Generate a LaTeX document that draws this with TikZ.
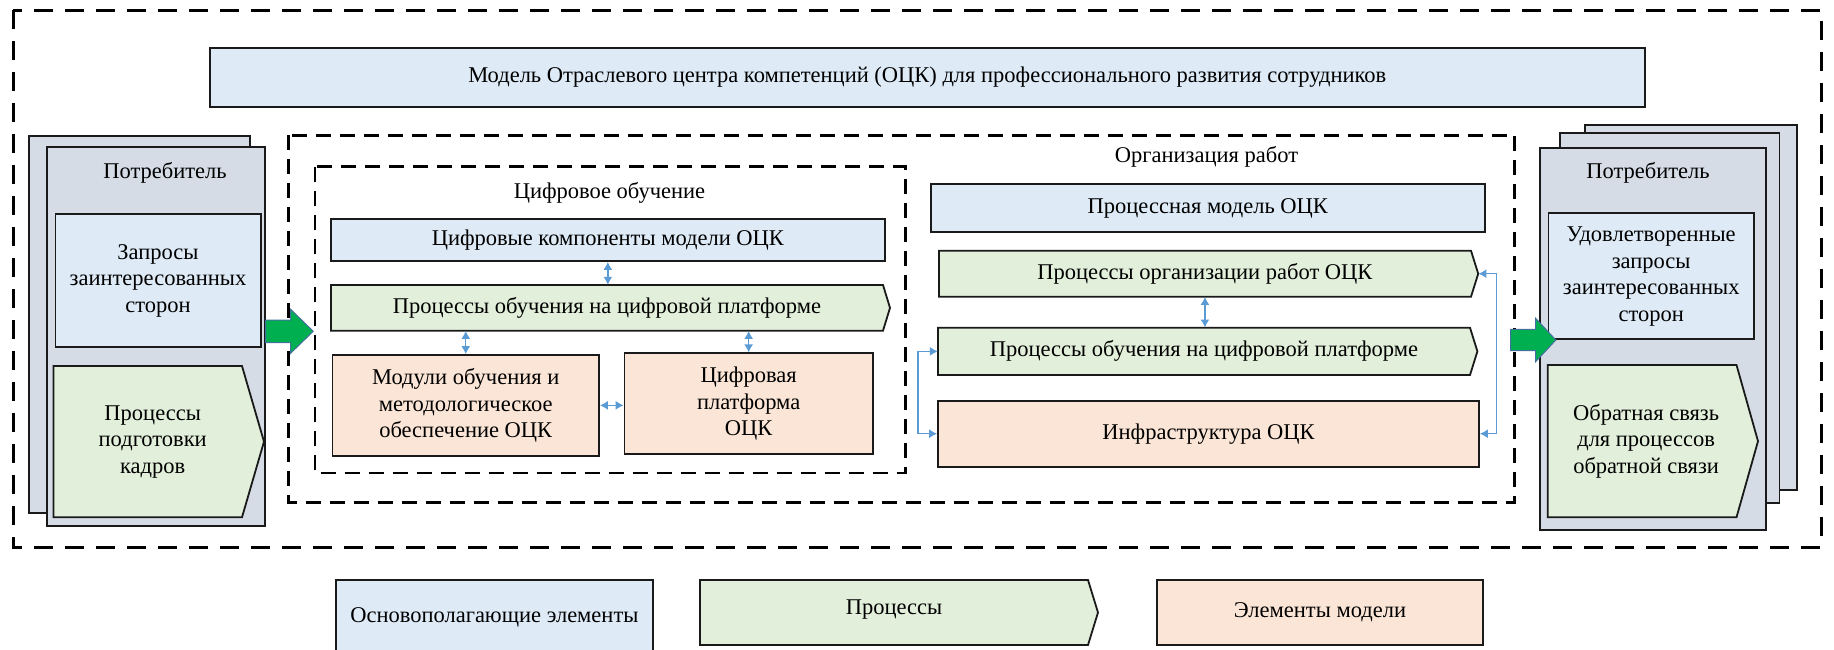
\documentclass[tikz,border=0pt]{standalone}
\usepackage{fontspec}
\setmainfont{Liberation Serif}
\usetikzlibrary{arrows.meta,calc}

\definecolor{fillblue}{HTML}{DEEBF7}
\definecolor{fillgreen}{HTML}{E2EFDA}
\definecolor{fillorange}{HTML}{FBE5D6}
\definecolor{fillstack}{HTML}{D6DCE5}
\definecolor{linkblue}{HTML}{5B9BD5}
\definecolor{arrowgreen}{HTML}{00B050}
\definecolor{arrowedge}{HTML}{41719C}
\definecolor{edge}{HTML}{1A1A1A}

\tikzset{
  txt/.style={font=\fontsize{22.5}{26.5}\selectfont, text=black, inner sep=0pt, align=center},
  box/.style={txt, draw=edge, line width=1.8pt},
  basebox/.style={box, fill=fillblue},
  modelbox/.style={box, fill=fillorange},
  stackbox/.style={box, fill=fillstack},
  procshape/.style={fill=fillgreen, draw=edge, line width=1.8pt, line join=miter},
  area/.style={draw=black, line width=3pt, dash pattern=on 19pt off 12pt},
  subarea/.style={draw=black, line width=2.6pt, dash pattern=on 15pt off 9pt},
  link/.style={draw=linkblue, line width=1.3pt,
    {Latex[length=8pt,width=9pt]}-{Latex[length=8pt,width=9pt]}},
  flow/.style={fill=arrowgreen, draw=arrowedge, line width=1pt, line join=miter},
}

% rectangular box: style, name, x1, y1, x2, y2, text
\newcommand\boxat[7]{%
  \node[#1, minimum width={#5-#3}, minimum height={#6-#4}] (#2)
    at ({(#3+#5)/2},{(#4+#6)/2}) {#7};}

% process (pentagon) box: [text shift], name, x1, y1, x2 (flat end), y2, tip length, text
\newcommand\procat[8][]{%
  \path[procshape] (#3,#4) -- (#5,#4) -- ({#5+#7},{(#4+#6)/2}) -- (#5,#6) -- (#3,#6) -- cycle;
  \node[txt, minimum width={#5-#3}, minimum height={#6-#4}, #1] (#2)
    at ({(#3+#5)/2},{(#4+#6)/2}) {#8};}

\begin{document}
\begin{tikzpicture}[x=1pt,y=-1pt]
\useasboundingbox (0,0) rectangle (1834,649);

% outer frame and title
\draw[area] (13,10) rectangle (1821,547);
\boxat{basebox}{title}{209.6}{47.7}{1645}{106.7}{Модель Отраслевого центра компетенций (ОЦК) для профессионального развития сотрудников}

% consumer stack on the left
\boxat{stackbox}{lback}{28.9}{136}{250.3}{513.3}{}
\boxat{stackbox}{lfront}{46.7}{146.7}{265.3}{525.7}{}
\node[txt] (lcons) at (165,173) {Потребитель};
\boxat{basebox}{req}{55.4}{214.3}{260.6}{346.7}{Запросы\\заинтересованных\\сторон}
\procat[xshift=5pt]{prep}{53.4}{366}{242}{517.3}{22}{Процессы\\подготовки\\кадров}

% organisation of work area
\draw[subarea] (288.6,135.3) rectangle (1514.6,502.3);
\node[txt] (orglbl) at (1206.5,157.3) {Организация работ};

% digital learning area
\draw[subarea] (315,166.7) rectangle (905.2,473);
\node[txt] (diglbl) at (609.5,193.3) {Цифровое обучение};
\boxat{basebox}{dcomp}{331}{218.7}{884.7}{261}{Цифровые компоненты модели ОЦК}
\procat{plearnA}{331}{285}{883}{330.7}{7}{Процессы обучения на цифровой платформе}
\boxat{modelbox}{modules}{332.5}{355}{599}{455.7}{Модули обучения и\\методологическое\\обеспечение ОЦК}
\boxat{modelbox}{platform}{624.5}{353.3}{872.8}{454}{Цифровая\\платформа\\ОЦК}

\draw[link] (dcomp.south) -- (dcomp.south |- plearnA.north);
\draw[link] (modules.north) -- (modules.north |- plearnA.south);
\draw[link] (platform.north) -- (platform.north |- plearnA.south);
\draw[link] (modules.east) -- (modules.east -| platform.west);

% process model column
\boxat{basebox}{pmodel}{931}{184.3}{1484.6}{232}{Процессная модель ОЦК}
\procat{porg}{938.9}{250.7}{1471}{296.7}{7.2}{Процессы организации работ ОЦК}
\procat{plearnB}{938}{327.7}{1470}{375}{7.4}{Процессы обучения на цифровой платформе}
\boxat{modelbox}{infra}{938}{400.7}{1479}{466.7}{Инфраструктура ОЦК}

\coordinate (porgtip) at ($(porg.east)+(7.2,0)$);
\draw[link] (porg.south) -- (porg.south |- plearnB.north);
\draw[link] (plearnB.west) -- ++(-19.7,0) |- (infra.west);
\draw[link] (porgtip) -- ++(18.2,0) |- (infra.east);

% consumer stack on the right
\boxat{stackbox}{rback}{1585.3}{125}{1797.2}{490}{}
\boxat{stackbox}{rmid}{1559.8}{133.3}{1779.4}{503.3}{}
\boxat{stackbox}{rfront}{1539.6}{148.3}{1766}{530}{}
\node[txt] (rcons) at (1648,172.7) {Потребитель};
\boxat{basebox}{sreq}{1548.5}{213.3}{1753.9}{339.3}{Удовлетворенные\\запросы\\заинтересованных\\сторон}
\procat[xshift=4pt]{feedback}{1547.7}{365}{1736.5}{517.3}{21.5}{Обратная связь\\для процессов\\обратной связи}

% block arrows into and out of the model
\draw[flow] (265.7,320) -- (290.6,320) -- (290.6,309.3) -- (313.2,331.3)
  -- (290.6,353.3) -- (290.6,342.7) -- (265.7,342.7) -- cycle;
\draw[flow] (1510.5,329.3) -- (1535.6,329.3) -- (1535.6,318.3) -- (1555.8,340)
  -- (1535.6,361.7) -- (1535.6,350.7) -- (1510.5,350.7) -- cycle;

% legend
\boxat{basebox}{legbase}{336}{580}{652.8}{655}{Основополагающие элементы}
\procat[yshift=3pt]{legproc}{700}{580}{1088}{645}{10}{Процессы}
\boxat{modelbox}{legmodel}{1156.7}{580}{1483.3}{645}{\raisebox{-3pt}{Элементы модели}}
\end{tikzpicture}
\end{document}
